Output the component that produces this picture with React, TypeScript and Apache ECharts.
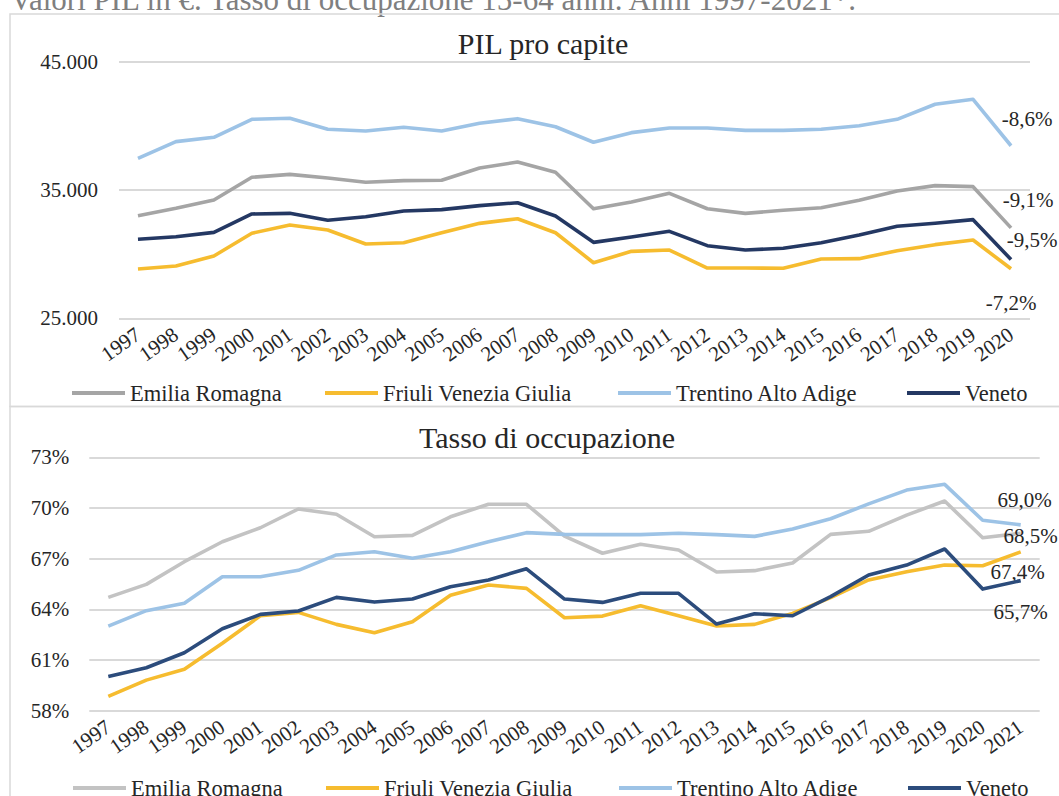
import React, { useEffect, useRef } from "react";
import * as echarts from "echarts";

const yearsPil = ["1997","1998","1999","2000","2001","2002","2003","2004","2005","2006","2007","2008","2009","2010","2011","2012","2013","2014","2015","2016","2017","2018","2019","2020"];
const yearsOcc = [...yearsPil, "2021"];

const seriesNames = ["Emilia Romagna", "Friuli Venezia Giulia", "Trentino Alto Adige", "Veneto"];

const pilEmilia = [33000,33570,34220,35990,36220,35940,35600,35730,35760,36720,37180,36380,33540,34070,34740,33540,33180,33420,33620,34200,34920,35340,35260,32050];
const pilFriuli = [28840,29080,29860,31630,32270,31880,30790,30890,31670,32400,32760,31670,29330,30220,30320,28920,28920,28900,29620,29650,30270,30740,31100,28860];
const pilTrentino = [37470,38770,39110,40510,40590,39730,39600,39890,39600,40200,40560,39930,38720,39470,39830,39830,39650,39650,39730,40010,40510,41680,42070,38450];
const pilVeneto = [31160,31360,31700,33130,33180,32640,32920,33360,33470,33780,34010,32970,30920,31340,31780,30660,30320,30460,30890,31490,32170,32410,32690,29580];
const pilChangeLabels = ["-9,1%", "-7,2%", "-8,6%", "-9,5%"];

const occEmilia = [64.71,65.48,66.82,68.0,68.83,69.94,69.63,68.3,68.38,69.48,70.22,70.22,68.34,67.32,67.85,67.51,66.21,66.29,66.74,68.44,68.62,69.58,70.41,68.24,68.5];
const occFriuli = [58.85,59.81,60.45,61.99,63.62,63.82,63.11,62.62,63.27,64.83,65.44,65.24,63.5,63.6,64.21,63.62,63.01,63.11,63.76,64.69,65.74,66.23,66.62,66.58,67.4];
const occTrentino = [63.01,63.92,64.36,65.93,65.93,66.31,67.22,67.41,67.02,67.41,68.0,68.54,68.44,68.42,68.42,68.5,68.42,68.32,68.75,69.36,70.24,71.06,71.4,69.27,69.0];
const occVeneto = [60.03,60.54,61.43,62.85,63.7,63.9,64.71,64.43,64.61,65.34,65.74,66.4,64.61,64.41,64.95,64.95,63.13,63.74,63.62,64.75,66.03,66.62,67.57,65.2,65.7];
const occLastLabels = ["68,5%", "67,4%", "69,0%", "65,7%"];

const FONT = "'Liberation Serif', 'DejaVu Serif', serif";
const TEXT = "#262626";
const topColors = ["#A5A5A5", "#F6BC2F", "#9DC3E6", "#243863"];
const botColors = ["#C3C3C3", "#F6BC2F", "#9DC3E6", "#2C4C7C"];
const topOffsets = [[17, -28], [0, 34], [16, -27], [21, -20]];
const botOffsets = [[10, 3], [-3, 20], [4, -25], [0, 31]];
const legendLefts = [72, 325, 618, 907];

function withLastLabel(values: number[], text: string, offset: number[]) {
  return values.map((v, i) =>
    i === values.length - 1
      ? {
          value: v,
          label: {
            show: true,
            position: "inside",
            offset,
            formatter: text,
            fontFamily: FONT,
            fontSize: 21,
            color: TEXT,
            align: "center",
            verticalAlign: "middle",
          },
        }
      : v
  );
}

export default function App() {
  const ref = useRef<HTMLDivElement>(null);
  useEffect(() => {
    document.body.style.margin = "0";
    const chart = echarts.init(ref.current!, null, { renderer: "svg" });
    const pilData = [pilEmilia, pilFriuli, pilTrentino, pilVeneto];
    const occData = [occEmilia, occFriuli, occTrentino, occVeneto];

    const series: any[] = [];
    seriesNames.forEach((name, k) => {
      series.push({
        type: "line",
        name,
        xAxisIndex: 0,
        yAxisIndex: 0,
        data: withLastLabel(pilData[k], pilChangeLabels[k], topOffsets[k]),
        symbol: "circle",
        symbolSize: 0,
        showSymbol: true,
        lineStyle: { color: topColors[k], width: 3.6, join: "round" },
        itemStyle: { color: topColors[k] },
        z: k === 3 ? 5 : 3,
      });
    });
    seriesNames.forEach((name, k) => {
      series.push({
        type: "line",
        name,
        xAxisIndex: 1,
        yAxisIndex: 1,
        data: withLastLabel(occData[k], occLastLabels[k], botOffsets[k]),
        symbol: "circle",
        symbolSize: 0,
        showSymbol: true,
        lineStyle: { color: botColors[k], width: 3.6, join: "round" },
        itemStyle: { color: botColors[k] },
        z: k === 3 ? 5 : 3,
      });
    });

    const legends: any[] = [];
    seriesNames.forEach((name, k) => {
      legends.push({
        data: [{ name, itemStyle: { color: topColors[k] } }],
        left: legendLefts[k],
        top: 381,
        icon: "rect",
        itemWidth: 53,
        itemHeight: 4,
        selectedMode: false,
        padding: 0,
        textStyle: { fontFamily: FONT, fontSize: 22.5, color: TEXT, lineHeight: 24 },
      });
      legends.push({
        data: [{ name, itemStyle: { color: botColors[k] } }],
        left: legendLefts[k] + 1,
        top: 776,
        icon: "rect",
        itemWidth: 53,
        itemHeight: 4,
        selectedMode: false,
        padding: 0,
        textStyle: { fontFamily: FONT, fontSize: 22.5, color: TEXT, lineHeight: 24 },
      });
    });

    const xAxisCommon = {
      type: "category",
      boundaryGap: true,
      axisLine: { show: false },
      axisTick: { show: false },
      axisLabel: {
        rotate: 35,
        interval: 0,
        margin: 14,
        fontFamily: FONT,
        fontSize: 21,
        color: TEXT,
      },
    };
    const splitLine = { show: true, lineStyle: { color: "#D9D9D9", width: 2 } };

    chart.setOption({
      animation: false,
      backgroundColor: "#ffffff",
      title: [
        {
          text: "PIL pro capite",
          left: 538,
          top: 23,
          textAlign: "center",
          textStyle: { fontFamily: FONT, fontSize: 30, fontWeight: "normal", color: TEXT },
        },
        {
          text: "Tasso di occupazione",
          left: 542,
          top: 417,
          textAlign: "center",
          textStyle: { fontFamily: FONT, fontSize: 30, fontWeight: "normal", color: TEXT },
        },
      ],
      legend: legends,
      grid: [
        { left: 119, right: 29, top: 61.7, height: 256.6, containLabel: false },
        { left: 89.3, right: 19.3, top: 457.3, height: 253.4, containLabel: false },
      ],
      xAxis: [
        { ...xAxisCommon, gridIndex: 0, data: yearsPil },
        { ...xAxisCommon, gridIndex: 1, data: yearsOcc },
      ],
      yAxis: [
        {
          type: "value",
          gridIndex: 0,
          min: 25000,
          max: 45000,
          interval: 10000,
          axisLine: { show: false },
          axisTick: { show: false },
          splitLine,
          axisLabel: {
            margin: 21,
            fontFamily: FONT,
            fontSize: 21,
            color: TEXT,
            formatter: (v: number) => {
              const s = String(Math.round(v));
              return s.replace(/\B(?=(\d{3})+(?!\d))/g, ".");
            },
          },
        },
        {
          type: "value",
          gridIndex: 1,
          min: 58,
          max: 73,
          interval: 3,
          axisLine: { show: false },
          axisTick: { show: false },
          splitLine,
          axisLabel: {
            margin: 20,
            fontFamily: FONT,
            fontSize: 21,
            color: TEXT,
            formatter: (v: number) => `${Math.round(v)}%`,
          },
        },
      ],
      graphic: [
        {
          type: "text",
          left: 10,
          top: -16,
          style: {
            text: "Valori PIL in €. Tasso di occupazione 15-64 anni. Anni 1997-2021*.",
            fontFamily: FONT,
            fontSize: 31,
            fill: "#7F7F7F",
          },
          z: 0,
        },
        {
          type: "rect",
          shape: { x: 10, y: 14, width: 1100, height: 392.5 },
          style: { fill: "none", stroke: "#D9D9D9", lineWidth: 1.5 },
          z: 0,
        },
        {
          type: "rect",
          shape: { x: 10, y: 406.5, width: 1100, height: 500 },
          style: { fill: "none", stroke: "#D9D9D9", lineWidth: 1.5 },
          z: 0,
        },
      ],
      series,
    });
    return () => chart.dispose();
  }, []);
  return (
    <div
      ref={ref}
      style={{ position: "fixed", left: 0, top: 0, width: 1059, height: 796 }}
    />
  );
}
